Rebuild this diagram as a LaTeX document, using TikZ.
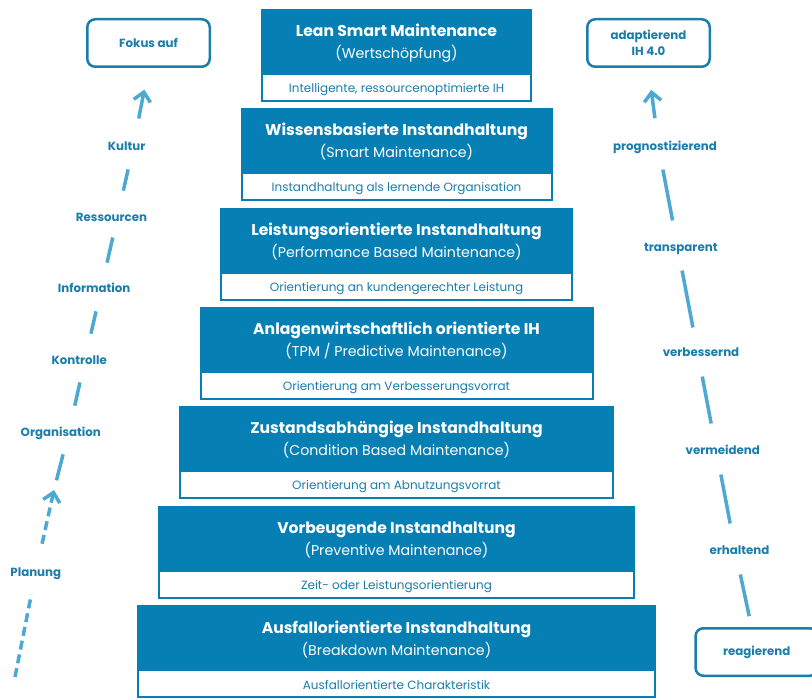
\documentclass[tikz,border=0pt]{standalone}
\usepackage{fontspec}
\setmainfont{Poppins}
\usetikzlibrary{arrows.meta}
\definecolor{blk}{HTML}{0680B4}
\definecolor{lbl}{HTML}{1B7DAA}
\definecolor{ln}{HTML}{4DA8D2}
\tikzset{
  bluepart/.style={rectangle, fill=blk, anchor=north, minimum height=66pt, inner sep=0pt},
  bandpart/.style={rectangle, fill=white, draw=blk, line width=2pt, anchor=north, minimum height=27pt, inner sep=0pt},
  ttl/.style={anchor=base, inner sep=0pt, text=white, font=\fontsize{15.6}{17}\selectfont\bfseries},
  sub/.style={anchor=base, inner sep=0pt, text=white, font=\fontsize{14.2}{16}\selectfont},
  bandtxt/.style={anchor=base, inner sep=0pt, text=lbl, font=\fontsize{12}{14}\selectfont},
  side/.style={inner sep=0pt, text height=8.5pt, text depth=0pt, text=lbl, font=\fontsize{11.8}{14}\selectfont\bfseries},
  endbox/.style={rectangle, rounded corners=8pt, draw=lbl, line width=2.5pt, fill=white, minimum width=122.5pt, minimum height=47.5pt, inner sep=0pt, align=center, text=lbl, font=\fontsize{11.8}{16.5}\selectfont\bfseries},
  seg/.style={draw=ln, line width=3.5pt},
  dseg/.style={draw=ln, line width=3.5pt, dash pattern=on 9pt off 5pt},
  tipped/.style={-{Straight Barb[length=9pt,width=17pt]}}
}
\newcommand\pyrlevel[7]{%
  \node[bluepart, minimum width=#3pt] (#1) at (396.5,#2) {};
  \node[bandpart, minimum width=#3pt-2pt] (#1b) at (396.5,{#2+64}) {};
  \node[ttl] (#1t) at (396.5,{#2+28}) {#4};
  \node[sub] (#1s) at (396.5,{#2+50}) {#5};
  \node[bandtxt] (#1c) at (396.5,{#2+84}) {#6};
}
\begin{document}
\begin{tikzpicture}[x=1pt,y=-1pt]
\useasboundingbox (0,0) rectangle (812,700);

% pyramid
\pyrlevel{p1}{9}{271}{Lean Smart Maintenance}{(Wertschöpfung)}{Intelligente, ressourcenoptimierte IH}{}
\pyrlevel{p2}{108}{312}{Wissensbasierte Instandhaltung}{(Smart Maintenance)}{Instandhaltung als lernende Organisation}{}
\pyrlevel{p3}{208}{353}{Leistungsorientierte Instandhaltung}{(Performance Based Maintenance)}{Orientierung an kundengerechter Leistung}{}
\pyrlevel{p4}{307}{394}{Anlagenwirtschaftlich orientierte IH}{(TPM / Predictive Maintenance)}{Orientierung am Verbesserungsvorrat}{}
\pyrlevel{p5}{406}{435}{Zustandsabhängige Instandhaltung}{(Condition Based Maintenance)}{Orientierung am Abnutzungsvorrat}{}
\pyrlevel{p6}{506}{477}{Vorbeugende Instandhaltung}{(Preventive Maintenance)}{Zeit- oder Leistungsorientierung}{}
\pyrlevel{p7}{605}{519}{Ausfallorientierte Instandhaltung}{(Breakdown Maintenance)}{Ausfallorientierte Charakteristik}{}

% left side
\node[endbox] (fokus) at (148.5,43) {Fokus auf};
\node[side] (kultur) at (126.7,146) {Kultur};
\node[side] (ress) at (111.5,217) {Ressourcen};
\node[side] (info) at (94.2,288) {Information};
\node[side] (kontr) at (79.2,360) {Kontrolle};
\node[side] (orga) at (60.8,432) {Organisation};
\node[side] (plan) at (35.8,572) {Planung};

\coordinate (lKul) at (133.4,146);
\coordinate (lRes) at (117.4,217);
\coordinate (lInf) at (101.3,288);
\coordinate (lKon) at (85.0,360);
\coordinate (lOrg) at (68.8,432);
\coordinate (lMid) at (54,490);
\coordinate (lStart) at (15,677);

\draw[dseg, shorten >=23pt] (lStart) -- (plan.center);
\draw[dseg, tipped, shorten <=29pt] (plan.center) -- (lMid);
\draw[seg, shorten <=10pt, shorten >=23pt] (lMid) -- (lOrg);
\draw[seg, shorten <=27pt, shorten >=23pt] (lOrg) -- (lKon);
\draw[seg, shorten <=27pt, shorten >=24pt] (lKon) -- (lInf);
\draw[seg, shorten <=26pt, shorten >=21pt] (lInf) -- (lRes);
\draw[seg, shorten <=27pt, shorten >=24pt] (lRes) -- (lKul);
\draw[seg, tipped, shorten <=28pt, shorten >=22pt] (lKul) -- (fokus.south);

% right side
\node[endbox] (adapt) at (648.5,43) {adaptierend\\IH 4.0};
\node[endbox, anchor=west] (reag) at (694.25,652) {reagierend};
\node[side] (prog) at (665,146) {prognostizierend};
\node[side] (transp) at (680.8,247) {transparent};
\node[side] (verb) at (701,352.7) {verbessernd};
\node[side] (verm) at (722.8,450) {vermeidend};
\node[side] (erh) at (739.5,550.7) {erhaltend};

\coordinate (rPro) at (658.4,146);
\coordinate (rTra) at (677.6,247);
\coordinate (rVer) at (697.6,352);
\coordinate (rVme) at (716.2,450);
\coordinate (rErh) at (735.4,551);

\draw[seg, shorten <=11pt, shorten >=24pt] (reag) -- (rErh);
\draw[seg, shorten <=28pt, shorten >=25pt] (rErh) -- (rVme);
\draw[seg, shorten <=27pt, shorten >=25pt] (rVme) -- (rVer);
\draw[seg, shorten <=25pt, shorten >=24pt] (rVer) -- (rTra);
\draw[seg, shorten <=27pt, shorten >=24pt] (rTra) -- (rPro);
\draw[seg, tipped, shorten <=28pt, shorten >=22pt] (rPro) -- (adapt.south);
\end{tikzpicture}
\end{document}
